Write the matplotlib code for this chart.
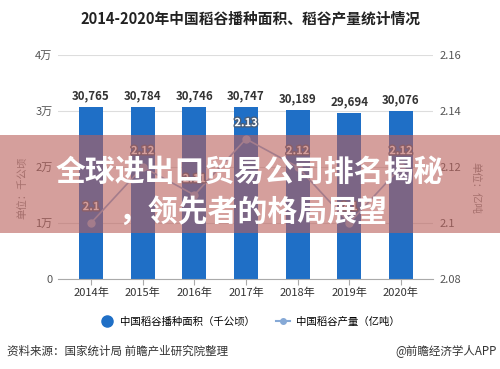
import numpy as np
import matplotlib
matplotlib.use("Agg")
import matplotlib.pyplot as plt
import matplotlib.patches as mpatches
import matplotlib.patheffects as pe
from matplotlib.lines import Line2D

plt.rcParams['font.family'] = ['Noto Sans CJK SC', 'DejaVu Sans']

# data
years = ['2014年', '2015年', '2016年', '2017年', '2018年', '2019年', '2020年']
area = [30765, 30784, 30746, 30747, 30189, 29694, 30076]  # 千公顷
output = [2.10, 2.12, 2.11, 2.13, 2.12, 2.10, 2.12]  # 亿吨
output_labels = ['2.1', '2.12', '2.11', '2.13', '2.12', '2.1', '2.12']
left_ticks = [0, 10000, 20000, 30000, 40000]
left_ticklabels = ['0', '1万', '2万', '3万', '4万']
right_ticks = [2.08, 2.10, 2.12, 2.14, 2.16]

bar_color = '#1F6FC6'
line_color = '#86A9D6'
grey = '#555555'

fig = plt.figure(figsize=(5, 3.69), dpi=100)
ax = fig.add_axes([0.116, 0.244, 0.75, 0.607])
x = np.arange(len(years))

ax.bar(x, area, width=0.46, color=bar_color, zorder=2)
for xi, v in zip(x, area):
    ax.text(xi, v + 800, f'{v:,}', ha='center', va='bottom', fontsize=8.3,
            fontweight='bold', color='#333333')

ax.set_xlim(-0.64, 6.62)
ax.set_ylim(0, 40000)
ax.set_yticks(left_ticks)
ax.set_yticklabels(left_ticklabels)
ax.set_xticks(x)
ax.set_xticklabels(years)
ax.grid(axis='y', color='#DDDDDD', linewidth=0.8, zorder=0)
for s in ['top', 'right', 'left']:
    ax.spines[s].set_visible(False)
ax.spines['bottom'].set_color('#AAAAAA')
ax.tick_params(axis='y', length=0, labelsize=8, labelcolor=grey, pad=4)
ax.tick_params(axis='x', length=4, color='#AAAAAA', labelsize=8, labelcolor='#333333', pad=2)

ax2 = ax.twinx()
ax2.plot(x, output, color=line_color, linewidth=1.2, marker='o', markersize=5, zorder=3)
for xi, v, lab in zip(x, output, output_labels):
    ax2.text(xi, v + 0.0035, lab, ha='center', va='bottom', fontsize=8, color='white',
             fontweight='bold',
             path_effects=[pe.withStroke(linewidth=2, foreground='#4A5F7A')])
ax2.set_ylim(2.08, 2.16)
ax2.set_yticks(right_ticks)
ax2.set_yticklabels([f'{t:g}' for t in right_ticks])
for s in ['top', 'right', 'left', 'bottom']:
    ax2.spines[s].set_visible(False)
ax2.tick_params(axis='y', length=0, labelsize=8, labelcolor=grey, pad=5)

fig.text(0.044, 0.49, '单位：千公顷', rotation=90, ha='center', va='center', fontsize=7.5, color='#888888')
fig.text(0.95, 0.49, '单位：亿吨', rotation=-90, ha='center', va='center', fontsize=7.5, color='#888888')

fig.text(0.5, 1 - 18 / 369, '2014-2020年中国稻谷播种面积、稻谷产量统计情况', ha='center', va='center',
         fontsize=10.6, fontweight='bold', color='#222222')

# legend
handles = [Line2D([], [], linestyle='none', marker='o', markersize=8, color=bar_color),
           Line2D([], [], color=line_color, marker='o', markersize=4, linewidth=1.5)]
fig.legend(handles, ['中国稻谷播种面积（千公顷）', '中国稻谷产量（亿吨）'], loc='center',
           bbox_to_anchor=(0.5, 1 - 322 / 369), ncol=2, frameon=False, fontsize=7.5,
           handlelength=1.3, columnspacing=2.0, handletextpad=0.6)

fig.text(0.014, 1 - 351 / 369, '资料来源：国家统计局 前瞻产业研究院整理', ha='left', va='center',
         fontsize=8.3, color='#333333')
fig.text(0.994, 1 - 351 / 369, '@前瞻经济学人APP', ha='right', va='center', fontsize=8.3, color='#333333')

# banner overlay
banner = mpatches.Rectangle((0, 1 - 233 / 369), 1, 98 / 369, transform=fig.transFigure,
                            facecolor=(185 / 255, 95 / 255, 90 / 255), alpha=0.6, zorder=10)
fig.add_artist(banner)
fig.text(0.5, 1 - 172 / 369, '全球进出口贸易公司排名揭秘', ha='center', va='center', fontsize=21.5,
         fontweight='bold', color='white', zorder=11)
fig.text(0.505, 1 - 212 / 369, '，领先者的格局展望', ha='center', va='center', fontsize=21.5,
         fontweight='bold', color='white', zorder=11)

fig.savefig('out.png', dpi=100)
